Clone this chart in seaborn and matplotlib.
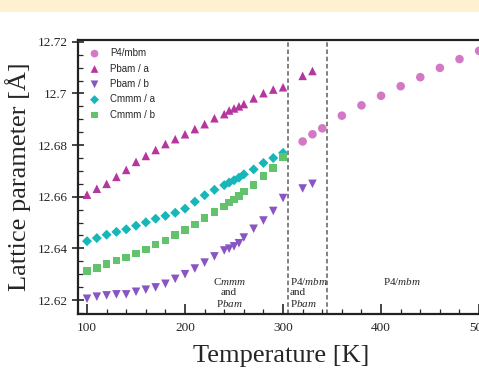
import numpy as np
import pandas as pd
import matplotlib
matplotlib.use("Agg")
import matplotlib.pyplot as plt
import seaborn as sns
from matplotlib.ticker import MultipleLocator
from matplotlib.patches import Rectangle

# ---- data ----
T_pbam_a = [100, 110, 120, 130, 140, 150, 160, 170, 180, 190, 200, 210, 220, 230, 240,
            245, 250, 255, 260, 270, 280, 290, 300, 320, 330]
pbam_a = [12.6608, 12.6631, 12.6650, 12.6677, 12.6704, 12.6735, 12.6758, 12.6781, 12.6804,
          12.6823, 12.6842, 12.6862, 12.6881, 12.6904, 12.6920, 12.6934, 12.6942, 12.6950,
          12.6959, 12.6981, 12.7001, 12.7015, 12.7024, 12.7068, 12.7087]

T_pbam_b = T_pbam_a
pbam_b = [12.6205, 12.6213, 12.6218, 12.6222, 12.6222, 12.6232, 12.6240, 12.6249, 12.6263,
          12.6282, 12.6300, 12.6322, 12.6345, 12.6369, 12.6392, 12.6399, 12.6408, 12.6420,
          12.6442, 12.6476, 12.6508, 12.6545, 12.6595, 12.6632, 12.6650]

T_cmmm = [100, 110, 120, 130, 140, 150, 160, 170, 180, 190, 200, 210, 220, 230, 240,
          245, 250, 255, 260, 270, 280, 290, 300]
cmmm_a = [12.6428, 12.6440, 12.6453, 12.6464, 12.6474, 12.6488, 12.6501, 12.6515, 12.6526,
          12.6538, 12.6554, 12.6581, 12.6606, 12.6627, 12.6645, 12.6655, 12.6664, 12.6674,
          12.6687, 12.6706, 12.6731, 12.6750, 12.6770]
cmmm_b = [12.6313, 12.6324, 12.6340, 12.6353, 12.6365, 12.6381, 12.6396, 12.6415, 12.6431,
          12.6453, 12.6472, 12.6492, 12.6517, 12.6540, 12.6563, 12.6577, 12.6590, 12.6604,
          12.6620, 12.6646, 12.6680, 12.6711, 12.6755]

T_p4 = [320, 330, 340, 360, 380, 400, 420, 440, 460, 480, 500]
p4_mbm = [12.6814, 12.6842, 12.6865, 12.6914, 12.6954, 12.6991, 12.7028, 12.7063, 12.7099,
          12.7133, 12.7165]

series_names = ["P4/mbm", "Pbam / a", "Pbam / b", "Cmmm / a", "Cmmm / b"]
transitions = [305, 345]

frames = [
    pd.DataFrame({"T": T_p4, "a": p4_mbm, "phase": "P4/mbm"}),
    pd.DataFrame({"T": T_pbam_a, "a": pbam_a, "phase": "Pbam / a"}),
    pd.DataFrame({"T": T_pbam_b, "a": pbam_b, "phase": "Pbam / b"}),
    pd.DataFrame({"T": T_cmmm, "a": cmmm_a, "phase": "Cmmm / a"}),
    pd.DataFrame({"T": T_cmmm, "a": cmmm_b, "phase": "Cmmm / b"}),
]
df = pd.concat(frames, ignore_index=True)

palette = {"P4/mbm": "#d378c4", "Pbam / a": "#b5369f", "Pbam / b": "#8855c3",
           "Cmmm / a": "#17b6b8", "Cmmm / b": "#62c36c"}
markers = {"P4/mbm": "o", "Pbam / a": "^", "Pbam / b": "v",
           "Cmmm / a": "D", "Cmmm / b": "s"}
sizes_map = {"P4/mbm": 38, "Pbam / a": 38, "Pbam / b": 38, "Cmmm / a": 26, "Cmmm / b": 30}

sns.set_style("white")
plt.rcParams["font.family"] = ["Liberation Serif", "DejaVu Serif"]
plt.rcParams["mathtext.fontset"] = "custom"
plt.rcParams["mathtext.rm"] = "Liberation Serif"
plt.rcParams["mathtext.it"] = "Liberation Serif:italic"

fig = plt.figure(figsize=(4.79, 3.68), dpi=100)
fig.patch.set_facecolor("white")
fig.patches.append(Rectangle((0, 1 - 12 / 368), 1, 12 / 368, transform=fig.transFigure,
                             facecolor="#fdf1d2", edgecolor="none", zorder=0))

ax = fig.add_axes([78 / 479, 54 / 368, 406 / 479, 274 / 368])

for name in series_names:
    sub = df[df["phase"] == name]
    sns.scatterplot(data=sub, x="T", y="a", color=palette[name], marker=markers[name],
                    s=sizes_map[name], edgecolor="none", ax=ax, label=name, zorder=3)

for t in transitions:
    ax.axvline(t, color="#777777", linestyle=(0, (2.5, 1.5)), linewidth=1.3, zorder=2)

ax.set_xlim(90.8, 505)
ax.set_ylim(12.6146, 12.7207)
ax.xaxis.set_major_locator(MultipleLocator(100))
ax.xaxis.set_minor_locator(MultipleLocator(20))
ax.yaxis.set_major_locator(MultipleLocator(0.02))
ax.yaxis.set_minor_locator(MultipleLocator(0.005))
ax.yaxis.set_major_formatter(matplotlib.ticker.FuncFormatter(lambda v, p: f"{v:.2f}".rstrip("0")))
ax.tick_params(axis="x", which="major", direction="in", length=7, width=1.2,
               labelsize=9.5, pad=6, bottom=True, top=False)
ax.tick_params(axis="y", which="major", direction="inout", length=9, width=1.2,
               labelsize=9.5, pad=3, left=True, right=False)
ax.tick_params(axis="both", which="minor", direction="in", length=3.5, width=0.9,
               bottom=True, left=True, top=False, right=False)
for side in ["left", "bottom", "top", "right"]:
    ax.spines[side].set_linewidth(1.6)
    ax.spines[side].set_color("#222222")

ax.set_xlabel("Temperature [K]", fontsize=19, labelpad=8)
ax.set_ylabel("Lattice parameter [Å]", fontsize=19, labelpad=5)

ax.text(245, 12.6230, "C$\\mathit{mmm}$\nand\nP$\\mathit{bam}$", ha="center", va="center",
        fontsize=8, linespacing=1.15)
ax.text(307, 12.6230, "P4/$\\mathit{mbm}$\nand\nP$\\mathit{bam}$", ha="left", va="center",
        fontsize=8, linespacing=1.15)
ax.text(421, 12.6271, "P4/$\\mathit{mbm}$", ha="center", va="center", fontsize=8)

leg = ax.legend(loc="upper left", frameon=False, prop={"family": "Liberation Sans", "size": 7},
                handletextpad=0.6, labelspacing=0.55, borderaxespad=0.3, markerscale=0.9,
                bbox_to_anchor=(0.0, 0.995))

fig.savefig("out.png", dpi=100)
